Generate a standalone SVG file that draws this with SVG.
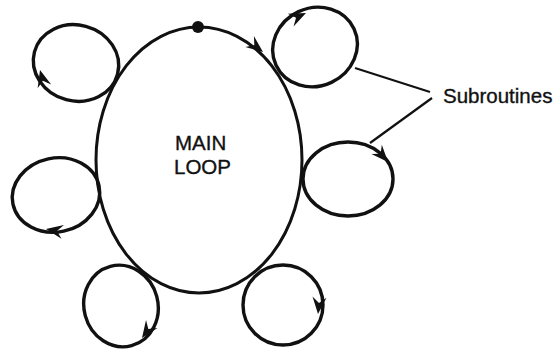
<svg xmlns="http://www.w3.org/2000/svg" width="559" height="351" viewBox="0 0 559 351">
<defs>
<style>
.loop{fill:none;stroke:#111;stroke-width:3.4}
.main{fill:none;stroke:#111;stroke-width:3}
.lead{stroke:#111;stroke-width:2.2;fill:none}
.lbl{font-family:"Liberation Sans",Arial,sans-serif;fill:#111;stroke:#111;stroke-width:0.35}
</style>
<path id="ah" d="M0,0 L-17,-7 L-11,0 L-17,7 Z" fill="#111"/>
</defs>
<rect width="559" height="351" fill="#fff"/>
<g id="main-loop">
<ellipse class="main" cx="199" cy="160" rx="103" ry="133"/>
<circle cx="198" cy="27" r="6" fill="#111"/>
<use href="#ah" transform="translate(263,52) rotate(38)"/>
<text class="lbl" x="175" y="150" font-size="20.5">MAIN</text>
<text class="lbl" x="174" y="174" font-size="20.5">LOOP</text>
</g>
<g id="sub-top-left">
<ellipse class="loop" cx="76" cy="63" rx="43" ry="38" transform="rotate(15 76 63)"/>
<use href="#ah" transform="translate(40,70) rotate(-105)"/>
</g>
<g id="sub-top-right">
<ellipse class="loop" cx="315" cy="47" rx="43" ry="39" transform="rotate(-25 315 47)"/>
<use href="#ah" transform="translate(306,13) rotate(-25)"/>
</g>
<g id="sub-right">
<ellipse class="loop" cx="348" cy="179" rx="45" ry="37"/>
<use href="#ah" transform="translate(388,162) rotate(48)"/>
</g>
<g id="sub-bottom-right">
<ellipse class="loop" cx="283" cy="305" rx="40" ry="40"/>
<use href="#ah" transform="translate(318,314) rotate(95)"/>
</g>
<g id="sub-bottom-left">
<ellipse class="loop" cx="121" cy="306" rx="37" ry="41" transform="rotate(-15 121 306)"/>
<use href="#ah" transform="translate(142,338) rotate(125)"/>
</g>
<g id="sub-left">
<ellipse class="loop" cx="56" cy="195" rx="44" ry="37" transform="rotate(-12 56 195)"/>
<use href="#ah" transform="translate(46,229) rotate(-170)"/>
</g>
<g id="connectors">
<line class="lead" x1="355" y1="68" x2="430" y2="92"/>
<line class="lead" x1="432" y1="98" x2="370" y2="143"/>
</g>
<g id="label-subroutines">
<text class="lbl" x="443" y="103" font-size="20.5" stroke-width="0.15">Subroutines</text>
</g>
</svg>
